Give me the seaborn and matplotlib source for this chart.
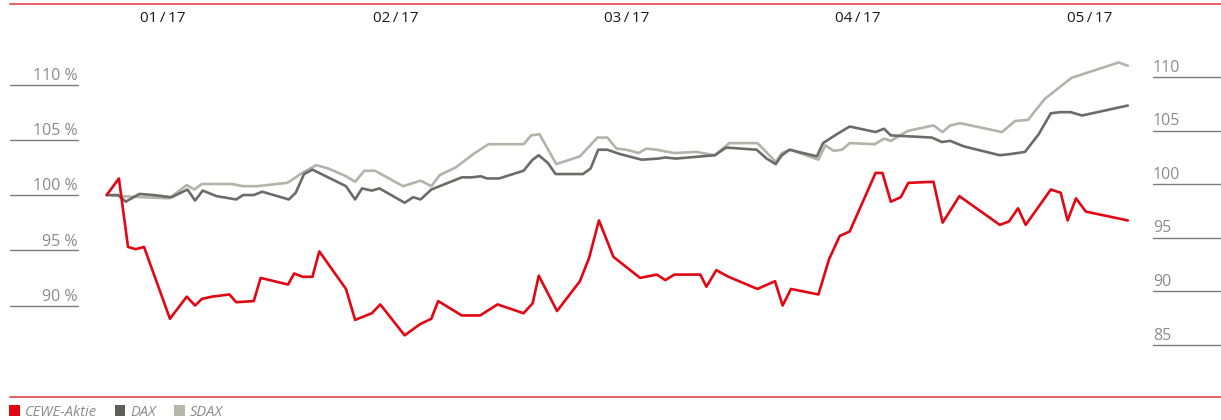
import numpy as np
import pandas as pd
import seaborn as sns
import matplotlib.pyplot as plt
from matplotlib.patches import Patch
from matplotlib.transforms import blended_transform_factory

# ------------------------------------------------------------
# Share price performance Jan-May 2017 (indexed, start = 100 %)
# x = days since start of period, y = indexed value in %
# ------------------------------------------------------------

cewe_days = [0, 1.6, 2.8, 3.8, 4.9, 8.3, 10.5, 11.6, 12.5, 13.8, 16.1, 17.0, 19.3,
             20.2, 23.8, 24.6, 25.7, 27.0, 27.9, 31.4, 32.6, 34.8, 35.9, 39.1, 41.1,
             42.6, 43.5, 46.6, 49.0, 51.3, 54.7, 55.9, 56.7, 59.1, 62.1, 63.3, 64.6,
             66.5, 70.0, 72.2, 73.3, 74.5, 77.9, 78.7, 80.0, 81.6, 85.4, 87.7, 88.7,
             89.8, 93.4, 94.8, 96.2, 97.5, 100.9, 101.8, 102.9, 104.2, 105.2, 108.5,
             109.7, 111.9, 117.2, 118.4, 119.6, 120.6, 123.9, 125.2, 126.1, 127.2,
             128.5, 134.0]
cewe_vals = [100.0, 101.5, 95.3, 95.1, 95.3, 88.8, 90.8, 90.0, 90.6, 90.8, 91.0, 90.3, 90.4,
             92.5, 91.9, 92.9, 92.6, 92.6, 94.9, 91.5, 88.7, 89.3, 90.1, 87.3, 88.3,
             88.8, 90.4, 89.1, 89.1, 90.1, 89.3, 90.2, 92.7, 89.5, 92.2, 94.3, 97.7,
             94.4, 92.5, 92.8, 92.3, 92.8, 92.8, 91.7, 93.2, 92.6, 91.5, 92.2, 90.0,
             91.5, 91.0, 94.2, 96.3, 96.7, 102.0, 102.0, 99.4, 99.8, 101.1, 101.2,
             97.5, 99.9, 97.3, 97.6, 98.8, 97.3, 100.5, 100.2, 97.7, 99.7,
             98.5, 97.7]

dax_days = [0, 1.5, 2.5, 4.3, 6.1, 8.5, 10.6, 11.6, 12.6, 14.4, 17.0, 17.9, 19.3, 20.4,
            23.9, 24.8, 25.9, 27.0, 31.4, 32.6, 33.5, 34.8, 35.8, 39.1, 40.2, 41.2,
            42.6, 46.6, 47.9, 49.1, 49.9, 51.5, 54.7, 55.9, 56.7, 57.9, 58.9, 62.5,
            63.5, 64.5, 65.7, 67.4, 70.2, 72.4, 73.3, 74.7, 79.8, 81.3, 85.3, 86.6,
            87.8, 88.6, 89.6, 93.2, 94.0, 95.8, 97.5, 100.9, 102.0, 102.9, 108.3,
            109.6, 110.7, 112.5, 117.2, 118.5, 120.5, 122.3, 123.9, 125.1, 126.5,
            128.0, 134.0]
dax_vals = [100.0, 100.0, 99.4, 100.1, 100.0, 99.8, 100.5, 99.5, 100.4, 99.9, 99.6, 100.0,
            100.0, 100.3, 99.6, 100.2, 101.9, 102.3, 100.8, 99.6, 100.6, 100.4, 100.6,
            99.3, 99.8, 99.6, 100.5, 101.6, 101.6, 101.7, 101.5, 101.5, 102.2, 103.2,
            103.6, 102.9, 101.9, 101.9, 102.4, 104.1, 104.1, 103.7, 103.2, 103.3,
            103.4, 103.3, 103.6, 104.3, 104.1, 103.3, 102.8, 103.6, 104.1, 103.5,
            104.7, 105.5, 106.2, 105.7, 106.0, 105.4, 105.2, 104.8, 104.9, 104.4,
            103.6, 103.7, 103.9, 105.5, 107.4, 107.5, 107.5, 107.2, 108.1]

sdax_days = [0, 1.7, 8.2, 10.5, 11.5, 12.5, 16.4, 17.9, 19.7, 23.7, 25.9, 27.5, 29.1,
             31.4, 32.6, 33.8, 35.2, 38.9, 41.2, 42.6, 43.7, 45.8, 48.3, 50.1, 54.7,
             55.7, 56.8, 59.0, 62.1, 64.4, 65.7, 66.9, 68.2, 69.8, 70.8, 72.2, 74.4,
             77.4, 79.8, 81.7, 85.4, 87.8, 88.6, 89.7, 93.4, 94.3, 95.4, 96.5, 97.5,
             100.8, 102.0, 102.9, 105.1, 108.5, 109.7, 110.7, 112.0, 117.5, 119.2,
             120.9, 123.1, 126.6, 132.8, 134.0]
sdax_vals = [100.0, 99.9, 99.7, 100.9, 100.5, 101.0, 101.0, 100.8, 100.8, 101.1, 102.1,
             102.7, 102.4, 101.7, 101.2, 102.2, 102.2, 100.8, 101.3, 100.8, 101.8,
             102.5, 103.8, 104.6, 104.6, 105.4, 105.5, 102.8, 103.5, 105.2, 105.2,
             104.2, 104.1, 103.8, 104.2, 104.1, 103.8, 103.9, 103.6, 104.7, 104.7,
             103.0, 103.8, 104.1, 103.2, 104.5, 104.0, 104.1, 104.7, 104.6, 105.1,
             104.9, 105.8, 106.3, 105.7, 106.3, 106.5, 105.7, 106.7, 106.8, 108.7,
             110.6, 112.0, 111.7]

month_labels = ["01\u2009/\u200917", "02\u2009/\u200917", "03\u2009/\u200917",
                "04\u2009/\u200917", "05\u2009/\u200917"]
month_pos = [7.4, 37.9, 68.2, 98.5, 129.0]

left_ticks = [110, 105, 100, 95, 90]
right_ticks = [110, 105, 100, 95, 90, 85]

series_names = ["SDAX", "DAX", "CEWE-Aktie"]
legend_order = ["CEWE-Aktie", "DAX", "SDAX"]
palette = {"CEWE-Aktie": "#e30613", "DAX": "#6b6b69", "SDAX": "#b3b3a9"}
legend_colors = {"CEWE-Aktie": "#e30613", "DAX": "#5e5e58", "SDAX": "#b5b5aa"}

RED_RULE = "#e2323c"
TICK_GREY = "#8c8c8c"
RULE_GREY = "#7d7d7d"

sns.set_theme(style="white")
plt.rcParams["font.family"] = ["Open Sans", "DejaVu Sans"]


def main():
    frames = []
    for name, days, vals in [("SDAX", sdax_days, sdax_vals),
                             ("DAX", dax_days, dax_vals),
                             ("CEWE-Aktie", cewe_days, cewe_vals)]:
        frames.append(pd.DataFrame({"day": days, "value": vals, "series": name}))
    df = pd.concat(frames, ignore_index=True)

    W, H = 1221, 420
    fig = plt.figure(figsize=(W / 100, H / 100), dpi=100)
    # axes frame between the two red rules
    ax = fig.add_axes([10 / W, (H - 397) / H, 1211 / W, 393 / H])

    sns.lineplot(
        data=df, x="day", y="value", hue="series", hue_order=series_names,
        palette=palette, estimator=None, sort=False, linewidth=1.9,
        legend=False, ax=ax,
    )

    ax.set_xlim(-12.69, 146.23)
    ax.set_ylim(81.72, 117.29)

    ax2 = ax.twinx()
    ax2.set_ylim(80.15, 116.81)

    for a in (ax, ax2):
        a.set_xticks([])
        a.set_yticks([])
        a.set_xlabel("")
        a.set_ylabel("")
        for side in ("left", "right"):
            a.spines[side].set_visible(False)
        for side in ("top", "bottom"):
            a.spines[side].set_color(RED_RULE)
            a.spines[side].set_linewidth(1.1)
    ax2.spines["top"].set_visible(False)
    ax2.spines["bottom"].set_visible(False)

    # left scale: short rules with labels sitting on them
    left_end = 68 / 1211
    tl = blended_transform_factory(ax.transAxes, ax.transData)
    for v in left_ticks:
        ax.axhline(v, xmin=0, xmax=left_end, color=RULE_GREY, linewidth=1.0)
        ax.annotate(f"{v} %", xy=(left_end, v), xycoords=tl, xytext=(0, 0.5),
                    textcoords="offset points", ha="right", va="bottom",
                    fontsize=11.5, color=TICK_GREY)

    # right scale
    right_start = 1143 / 1211
    tr = blended_transform_factory(ax2.transAxes, ax2.transData)
    for v in right_ticks:
        ax2.axhline(v, xmin=right_start, xmax=1, color=RULE_GREY, linewidth=1.0)
        ax2.annotate(f"{v}", xy=(right_start, v), xycoords=tr, xytext=(0, 1),
                     textcoords="offset points", ha="left", va="bottom",
                     fontsize=11.5, color=TICK_GREY)

    # month labels along the top
    tm = blended_transform_factory(ax.transData, ax.transAxes)
    for pos, lab in zip(month_pos, month_labels):
        ax.text(pos, 0.962, lab, transform=tm, ha="center", va="center",
                fontsize=11, color="#1a1a1a")

    handles = [Patch(facecolor=legend_colors[n], edgecolor="none") for n in legend_order]
    leg = fig.legend(
        handles, legend_order, loc="center left", bbox_to_anchor=(9 / W, 8 / H),
        ncol=3, frameon=False, handlelength=0.75, handleheight=0.75,
        handletextpad=0.35, columnspacing=1.2, borderaxespad=0.0, borderpad=0.0,
        prop={"size": 10.5, "style": "italic"},
    )
    for t in leg.get_texts():
        t.set_color(TICK_GREY)

    fig.savefig("out.png", dpi=100)
    plt.close(fig)


if __name__ == "__main__":
    main()
